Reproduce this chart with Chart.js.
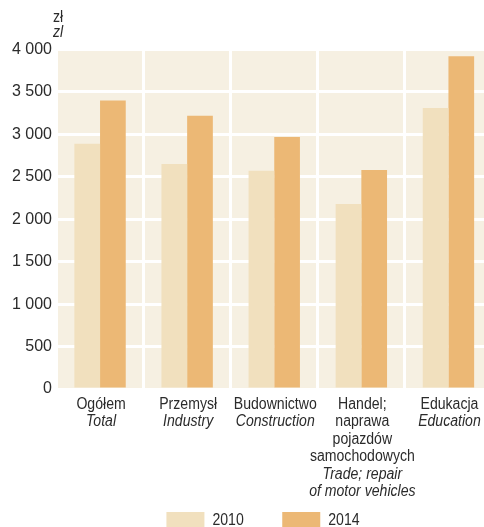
<!DOCTYPE html>
<html>
<head>
<meta charset="utf-8">
<script src="https://cdn.jsdelivr.net/npm/chart.js@4/dist/chart.umd.min.js"></script>
<style>
  html, body { margin: 0; padding: 0; background: #fff; overflow: hidden; }
  canvas { display: block; }
</style>
</head>
<body>
<canvas id="wagesChart" width="492" height="527"></canvas>
<script>
// values (zł)
const categories = ["Ogółem", "Przemysł", "Budownictwo", "Handel", "Edukacja"];
const labelsPl = [["Ogółem"], ["Przemysł"], ["Budownictwo"], ["Handel;", "naprawa", "pojazdów", "samochodowych"], ["Edukacja"]];
const labelsEn = [["Total"], ["Industry"], ["Construction"], ["Trade; repair", "of motor vehicles"], ["Education"]];
const years = ["2010", "2014"];
const values2010 = [2890, 2650, 2570, 2180, 3310];
const values2014 = [3400, 3220, 2970, 2580, 3920];
const yTicks = [0, 500, 1000, 1500, 2000, 2500, 3000, 3500, 4000];

const FONT = "'Liberation Sans', Arial, sans-serif";
const TEXT = "#2b2b2b";
const SQUEEZE = 0.88;

function fmt(v) {
  return String(v).replace(/\B(?=(\d{3})+(?!\d))/g, " ");
}

function squeezedText(ctx, t, x, y, italic) {
  ctx.save();
  ctx.font = (italic ? "italic " : "") + "16px " + FONT;
  ctx.translate(x, y);
  ctx.scale(SQUEEZE, 1);
  ctx.fillText(t, 0, 0);
  ctx.restore();
}

const plotBackground = {
  id: "plotBackground",
  beforeDraw(chart) {
    const { ctx, chartArea: a } = chart;
    ctx.save();
    ctx.fillStyle = "#f6f0e2";
    ctx.fillRect(a.left, a.top, a.right - a.left, a.bottom - a.top);
    ctx.restore();
  }
};

// category labels (polish upright, english italic), unit and legend
const extraText = {
  id: "extraText",
  afterDraw(chart) {
    const { ctx } = chart;
    const x = chart.scales.x;
    const y = chart.scales.y;
    const lineH = 17.5;
    const firstBase = x.top + 19.5;
    ctx.save();
    ctx.fillStyle = TEXT;
    ctx.textAlign = "center";
    ctx.textBaseline = "alphabetic";
    categories.forEach((c, i) => {
      const cx = x.getPixelForValue(i) + 1;
      const lines = labelsPl[i].map(t => [t, false]).concat(labelsEn[i].map(t => [t, true]));
      lines.forEach(([t, italic], j) => squeezedText(ctx, t, cx, firstBase + j * lineH, italic));
    });

    ctx.textAlign = "left";
    squeezedText(ctx, "zł", y.right - 3.5, y.top - 28, false);
    squeezedText(ctx, "zl", y.right - 3.5, y.top - 13, true);

    // legend
    const boxW = 38, boxH = 15, gap = 8, spacing = 38.5;
    ctx.font = "16px " + FONT;
    const items = chart.data.datasets.map(ds => ({
      text: ds.label, color: ds.backgroundColor,
      w: boxW + gap + ctx.measureText(ds.label).width * SQUEEZE
    }));
    const total = items.reduce((s, it) => s + it.w, 0) + spacing * (items.length - 1);
    let lx = 263 - total / 2;
    const ly = 512;
    items.forEach(it => {
      ctx.fillStyle = it.color;
      ctx.fillRect(lx, ly, boxW, boxH);
      ctx.fillStyle = TEXT;
      squeezedText(ctx, it.text, lx + boxW + gap, ly + 13, false);
      lx += it.w + spacing;
    });
    ctx.restore();
  }
};

new Chart(document.getElementById("wagesChart"), {
  type: "bar",
  data: {
    labels: categories,
    datasets: [
      { label: years[0], data: values2010, backgroundColor: "#f1e0be" },
      { label: years[1], data: values2014, backgroundColor: "#ecb875" }
    ]
  },
  options: {
    responsive: false,
    animation: false,
    events: [],
    layout: { padding: { top: 49.5, left: 4, right: 0, bottom: 0 } },
    datasets: { bar: { categoryPercentage: 0.59, barPercentage: 1 } },
    scales: {
      x: {
        grid: { color: "#ffffff", lineWidth: 3, drawTicks: false, offset: true },
        border: { display: false },
        ticks: { display: false },
        afterFit(scale) { scale.height = 138; }
      },
      y: {
        min: 0,
        max: 4000,
        afterBuildTicks(scale) { scale.ticks = yTicks.map(v => ({ value: v })); },
        grid: { color: "#ffffff", lineWidth: 3, drawTicks: false },
        border: { display: false },
        ticks: {
          padding: 4.5,
          color: TEXT,
          font: { family: FONT, size: 16 },
          callback: v => fmt(v)
        },
        afterFit(scale) { scale.width = 52.5; }
      }
    },
    plugins: {
      legend: { display: false },
      tooltip: { enabled: false }
    }
  },
  plugins: [plotBackground, extraText]
});
</script>
</body>
</html>
